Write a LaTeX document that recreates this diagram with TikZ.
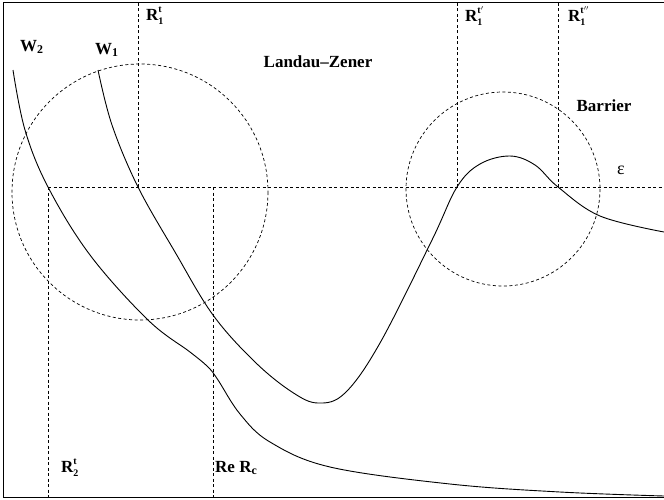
\documentclass[tikz,border=0pt]{standalone}
\usepackage{fontspec}
\setmainfont{Liberation Serif}
\usetikzlibrary{positioning}
\newcommand{\lvl}[3]{#1\raisebox{-4pt}{\fontsize{10}{10}\selectfont\shortstack[l]{#3\\[2pt]#2}}}

\begin{document}
\begin{tikzpicture}[
        x=1pt, y=-1pt,
        guide/.style={dash pattern=on 3pt off 2.5pt, line width=0.7pt},
        curve/.style={line width=0.9pt},
        lbl/.style={font=\fontsize{17}{20}\selectfont\bfseries, inner sep=0pt}
      ]
        \useasboundingbox (0,0) rectangle (664,499);
        \draw[line width=1pt] (3,2) rectangle (680,497);

        % turning points and crossings
        \coordinate (left) at (48,187);
        \coordinate (rt) at (138,187);
        \coordinate (rc) at (213,187);
        \coordinate (rtp) at (457,187);
        \coordinate (rtpp) at (558,187);
        \coordinate (right) at (664,187);

        \draw[guide] (left) -- (right);
        \draw[guide] (left) -- (left |- 0,497);
        \draw[guide] (rt) -- (rt |- 0,2);
        \draw[guide] (rc) -- (rc |- 0,497);
        \draw[guide] (rtp) -- (rtp |- 0,2);
        \draw[guide] (rtpp) -- (rtpp |- 0,2);

        % regions
        \draw[guide] (140,192) circle[radius=128];
        \draw[guide] (503,189) circle[radius=97];

        % potentials
        \draw[curve] plot[smooth, tension=0.6] coordinates {(13,70) (25,130) (48,187) (90,255) (148,320) (190,352) (208,367) (218,380) (240,414) (270,442) (330,467) (450,484) (560,492) (664,496)};
        \draw[curve] plot[smooth, tension=0.6] coordinates {(98,70) (112,125) (138,187) (175,252) (213,315) (255,362) (292,392) (318,403) (345,393) (380,343) (432,240) (457,187) (480,164) (510,156) (535,165) (558,187) (600,216) (664,232)};

        \node[lbl, anchor=west] (w2) at (20,47) {W\textsubscript{2}};
        \node[lbl, anchor=west] (w1) at (95,50) {W\textsubscript{1}};
        \node[lbl] (lz) at (318,62) {Landau--Zener};
        \node[lbl] (bar) at (604,106) {Barrier};
        \node[font=\fontsize{18}{20}\selectfont, inner sep=0pt] (eps) at (621,170) {ε};
        \node[lbl, anchor=west] (r1) at (146,16) {\lvl{R}{1}{t}};
        \node[lbl, anchor=west] (r1p) at (465,16) {\lvl{R}{1}{t$'$}};
        \node[lbl, anchor=west] (r1pp) at (568,16) {\lvl{R}{1}{t$''$}};
        \node[lbl, anchor=west] (r2) at (61,468) {\lvl{R}{2}{t}};
        \node[lbl, anchor=west] (rec) at (215,468) {Re R\textsubscript{c}};
      \end{tikzpicture}
\end{document}
